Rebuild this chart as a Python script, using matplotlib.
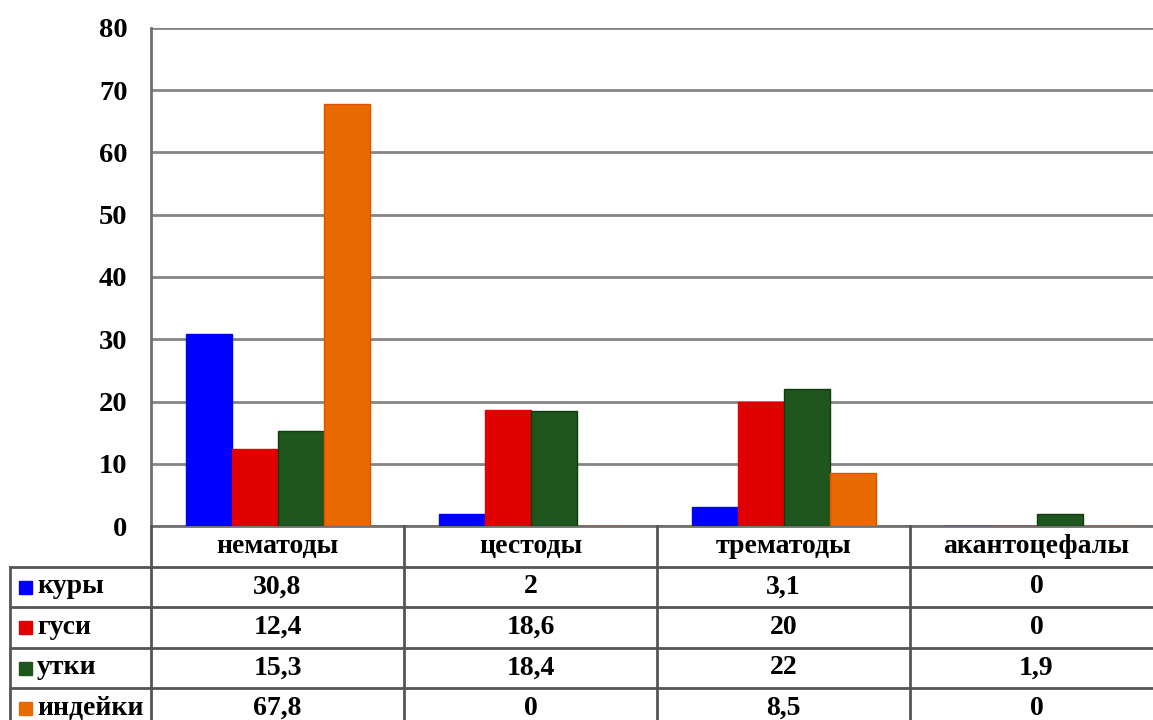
"""Grouped bar chart with a data table underneath."""

import matplotlib
import matplotlib.pyplot as plt
import numpy as np

matplotlib.use("Agg")

categories = ["нематоды", "цестоды", "трематоды", "акантоцефалы"]
series = ["куры", "гуси", "утки", "индейки"]
kury = [30.8, 2, 3.1, 0]
gusi = [12.4, 18.6, 20, 0]
utki = [15.3, 18.4, 22, 1.9]
indeyki = [67.8, 0, 8.5, 0]
colors = ["#0000ff", "#e00000", "#1e561e", "#e86a00"]
edges = ["#0000ff", "#e00000", "#103a10", "#e05000"]

values = [kury, gusi, utki, indeyki]

plt.rcParams["font.family"] = ["Liberation Serif", "DejaVu Serif"]
plt.rcParams["font.weight"] = "bold"

W, H = 1153, 720
fig = plt.figure(figsize=(W / 100, H / 100), dpi=100)

# layout in pixels
left_px, top_px, bottom_px = 151, 28, 526
cat_px = 253
row_h = 40.5
label_left = 10
fs = 20

ax = fig.add_axes([left_px / W, 1 - bottom_px / H,
                   4 * cat_px / W, (bottom_px - top_px) / H])
n = len(categories)
x = np.arange(n) + 0.5
bw = 46 / cat_px
for i, (vals, c, e) in enumerate(zip(values, colors, edges)):
    ax.bar(x + (i - 1.5) * bw, vals, width=bw, color=c, edgecolor=e,
           linewidth=1, zorder=3)

ax.set_xlim(0, n)
ax.set_ylim(0, 80)
ax.set_yticks(range(0, 90, 10))
ax.tick_params(axis="y", length=0, pad=17, labelsize=fs + 0.5)
ax.set_yticklabels([str(t) for t in range(0, 90, 10)], fontweight="bold")
ax.set_xticks([])
ax.grid(axis="y", color="#858585", linewidth=2, zorder=0)
for s in ["top", "right"]:
    ax.spines[s].set_visible(False)
ax.spines["left"].set_color("#707070")
ax.spines["left"].set_linewidth(2)
ax.spines["bottom"].set_color("#707070")
ax.spines["bottom"].set_linewidth(2)

# table overlay in pixel coordinates
tb = fig.add_axes([0, 0, 1, 1], zorder=5)
tb.set_xlim(0, W)
tb.set_ylim(H, 0)
tb.axis("off")
tb.patch.set_alpha(0)

line_kw = dict(color="#555555", linewidth=2)
right_px = left_px + n * cat_px
rows_top = bottom_px + row_h
table_bottom = rows_top + len(series) * row_h

# horizontal lines
for r in range(len(series) + 1):
    y = rows_top + r * row_h
    tb.plot([label_left, right_px], [y, y], **line_kw)
# vertical lines
tb.plot([left_px, left_px], [bottom_px, table_bottom], **line_kw)
tb.plot([label_left, label_left], [rows_top, table_bottom], **line_kw)
for j in range(1, n + 1):
    xx = left_px + j * cat_px
    tb.plot([xx, xx], [bottom_px, table_bottom], **line_kw)

# header
for j, cat in enumerate(categories):
    tb.text(left_px + (j + 0.5) * cat_px, bottom_px + row_h / 2, cat,
            ha="center", va="center", fontsize=fs, fontweight="bold")

# rows
for r, (name, vals, c) in enumerate(zip(series, values, colors)):
    yc = rows_top + (r + 0.5) * row_h
    tb.add_patch(plt.Rectangle((19, yc - 6), 13, 13, color=c))
    tb.text(37, yc, name, ha="left", va="center", fontsize=fs,
            fontweight="bold")
    for j, v in enumerate(vals):
        txt = f"{v:g}".replace(".", ",")
        tb.text(left_px + (j + 0.5) * cat_px, yc, txt, ha="center",
                va="center", fontsize=fs, fontweight="bold")

fig.savefig("out.png", dpi=100)
